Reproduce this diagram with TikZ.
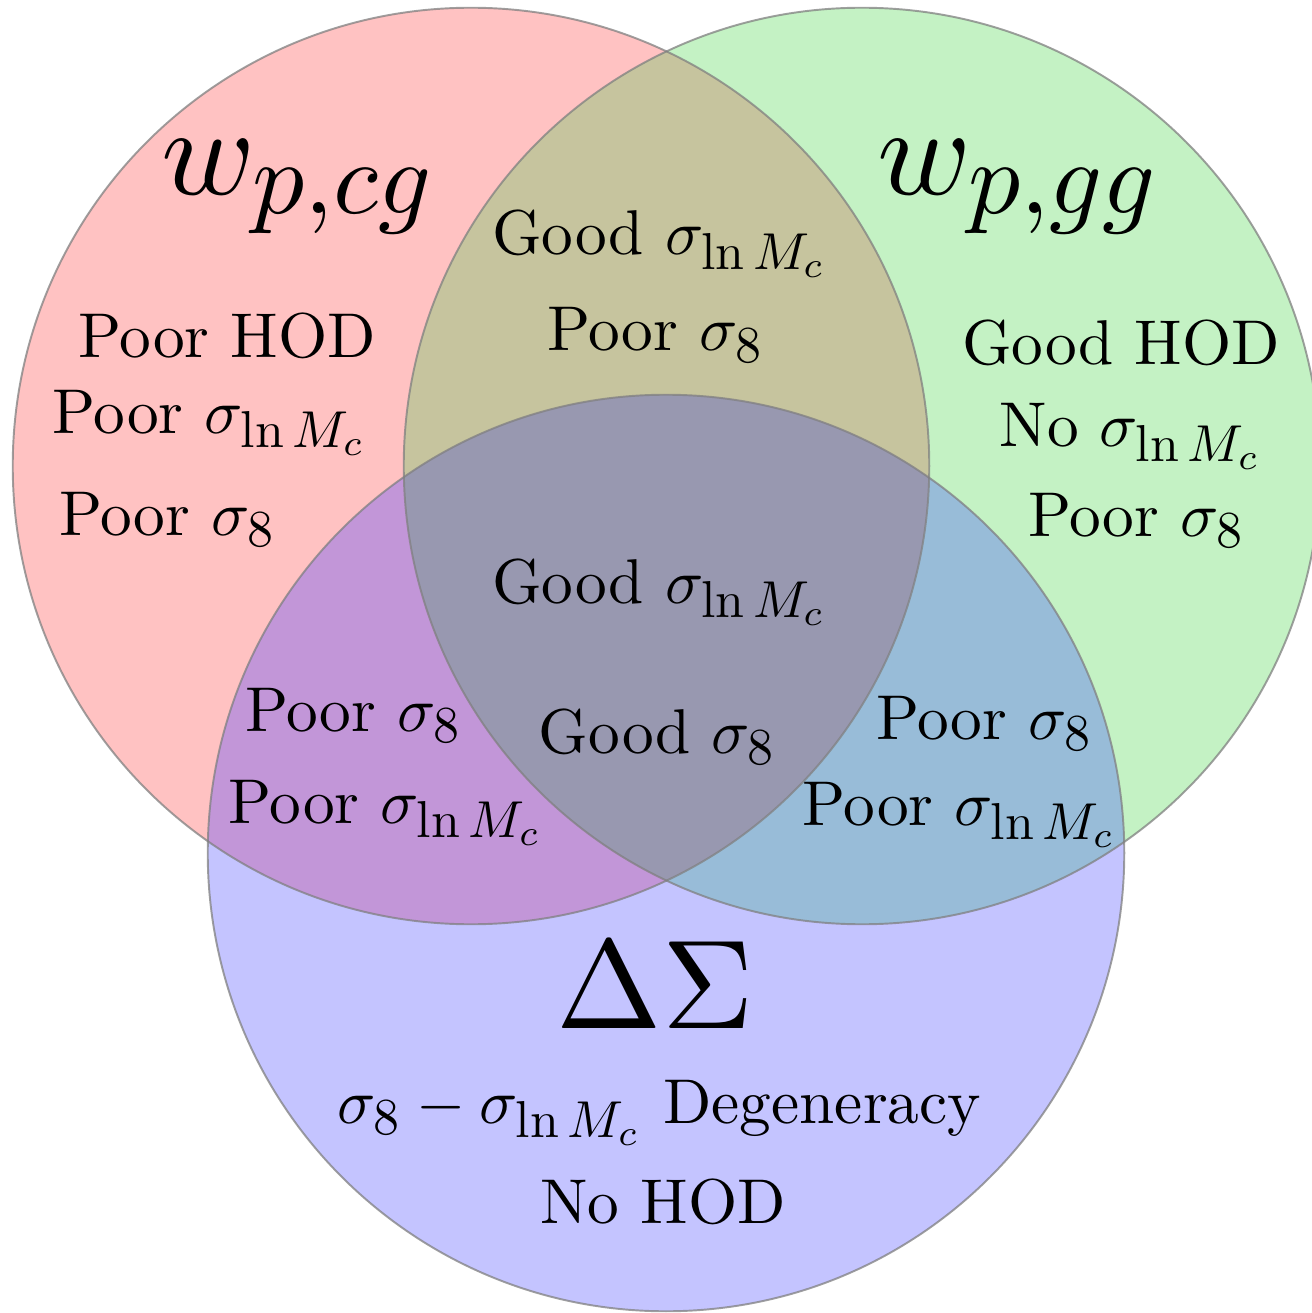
\documentclass[tikz,border=0pt]{standalone}
\definecolor{cred}{HTML}{FFC2C2}
\definecolor{cgreen}{HTML}{C4F2C4}
\definecolor{cblue}{HTML}{C4C4FF}
\definecolor{crg}{HTML}{C6C49E}
\definecolor{crb}{HTML}{C296D8}
\definecolor{cgb}{HTML}{98BCD8}
\definecolor{crgb}{HTML}{9898B0}
\newcommand{\msub}[1]{_{\scalebox{0.82}{$\textstyle #1$}}}
\newcommand{\sgl}{\sigma\msub{\ln M_c}}
\newcommand{\sge}{\sigma\msub{8}}
\begin{document}
\begin{tikzpicture}[x=0.01cm,y=-0.01cm,
  lab/.style={anchor=base,inner sep=0pt,scale=1.8,transform shape},
  big/.style={anchor=base,inner sep=0pt,scale=3.6,transform shape},
  rim/.style={draw=black!50,draw opacity=0.75,line width=0.55pt}]
\useasboundingbox (0,0) rectangle (1311,1313);
\coordinate (R) at (471,466);
\coordinate (G) at (862,466);
\coordinate (B) at (666,853);
\def\rr{4.58cm}
\fill[cred] (R) circle[radius=\rr];
\fill[cgreen] (G) circle[radius=\rr];
\fill[cblue] (B) circle[radius=\rr];
\begin{scope}
  \clip (R) circle[radius=\rr];
  \fill[crg] (G) circle[radius=\rr];
  \fill[crb] (B) circle[radius=\rr];
  \clip (G) circle[radius=\rr];
  \fill[crgb] (B) circle[radius=\rr];
\end{scope}
\begin{scope}
  \clip (G) circle[radius=\rr];
  \begin{scope}[even odd rule]
    \clip (R) circle[radius=\rr] (-100,-100) rectangle (1500,1500);
    \fill[cgb] (B) circle[radius=\rr];
  \end{scope}
\end{scope}
\draw[rim] (R) circle[radius=\rr];
\draw[rim] (G) circle[radius=\rr];
\draw[rim] (B) circle[radius=\rr];
% big labels
\node[big] (tcg) at (300,195) {$w\msub{p{,}cg}$};
\node[big] (tgg) at (1020,195) {$w\msub{p{,}gg}$};
\node[big] (tds) at (655,1028) {$\Delta\Sigma$};
% red only
\node[lab] (r1) at (227,358) {Poor HOD};
\node[lab] (r2) at (210,433) {Poor $\sgl$};
\node[lab] (r3) at (168,535) {Poor $\sge$};
% red-green
\node[lab] (rg1) at (660,255) {Good $\sgl$};
\node[lab] (rg2) at (656,351) {Poor $\sge$};
% green only
\node[lab] (g1) at (1121,365) {Good HOD};
\node[lab] (g2) at (1131,447) {No $\sgl$};
\node[lab] (g3) at (1137,536) {Poor $\sge$};
% center
\node[lab] (c1) at (660,603) {Good $\sgl$};
\node[lab] (c2) at (658,753) {Good $\sge$};
% red-blue
\node[lab] (rb1) at (354,731) {Poor $\sge$};
\node[lab] (rb2) at (386,823) {Poor $\sgl$};
% green-blue
\node[lab] (gb1) at (985,739) {Poor $\sge$};
\node[lab] (gb2) at (960,825) {Poor $\sgl$};
% blue only
\node[lab] (b1) at (659,1123) {$\sge-\sgl$ Degeneracy};
\node[lab] (b2) at (663,1223) {No HOD};
\end{tikzpicture}
\end{document}
